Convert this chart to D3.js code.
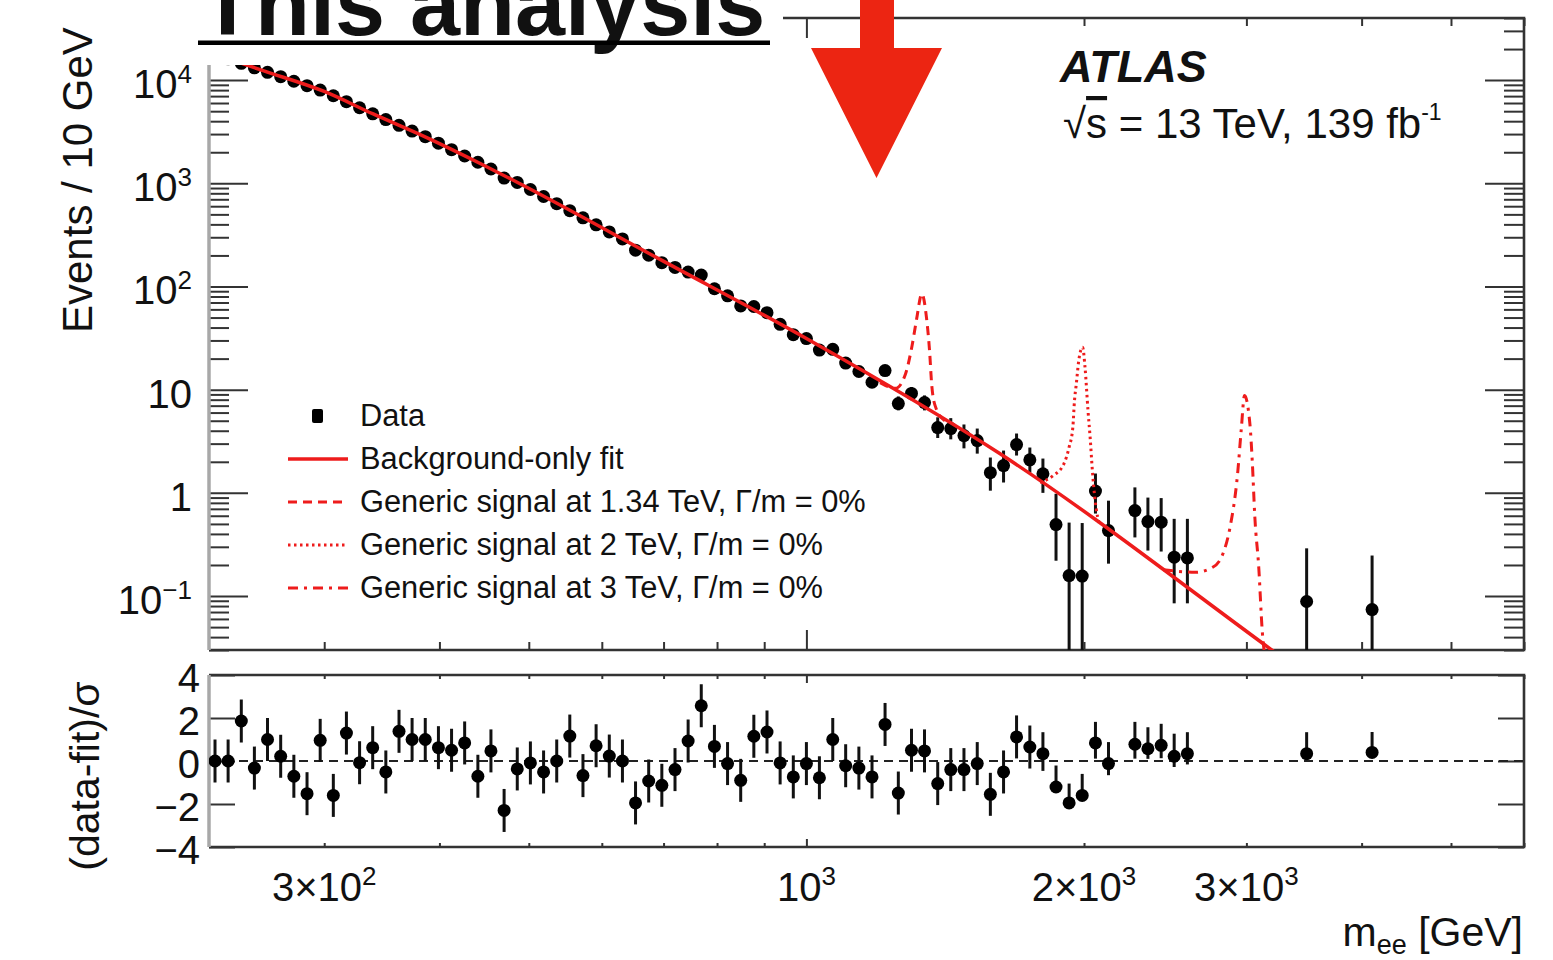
<!DOCTYPE html>
<html>
<head>
<meta charset="utf-8">
<script src="https://cdn.jsdelivr.net/npm/d3@7"></script>
<style>
  body { margin: 0; background: #fff; }
  svg { display: block; }
  text { font-family: "Liberation Sans", Arial, Helvetica, sans-serif; fill: #111; }
</style>
</head>
<body>
<div id="chart"></div>
<script>
// ---- data ----
// bin centres (GeV), one per drawn data point (empty bins are not drawn)
const mass = [228.4, 236.0, 243.9, 252.0, 260.4, 269.1, 278.1, 287.4, 297.0, 306.9,
  317.1, 327.7, 338.6, 349.9, 361.6, 373.6, 386.1, 399.0, 412.3, 426.0,
  440.3, 454.9, 470.1, 485.8, 502.0, 518.8, 536.1, 553.9, 572.4, 591.5,
  611.3, 631.7, 652.7, 674.5, 697.0, 720.3, 744.3, 769.1, 794.8, 821.3,
  848.7, 877.0, 906.3, 936.5, 967.8, 1000, 1033, 1068, 1103, 1140,
  1178, 1217, 1258, 1300, 1343, 1388, 1434, 1482, 1532, 1583,
  1636, 1690, 1747, 1805, 1865, 1927, 1991, 2058, 2126,
  2271, 2346, 2425, 2505, 2589,
  3487, 4106]

// events / 10 GeV
const events = [17800, 16070, 14540, 13150, 11910, 10790, 9750, 8830, 8000, 7060,
  6180, 5400, 4710, 4150, 3650, 3210, 2830, 2450, 2120, 1840,
  1600, 1377, 1123, 1021, 871, 745, 635, 543, 463, 396,
  338, 289, 225, 201, 170, 153, 138, 129, 95.1, 81.2,
  64.8, 64, 55.8, 43.0, 34.1, 31.3, 24.2, 24.6, 18.1, 15.0,
  11.8, 15.3, 7.33, 9.2, 7.5, 4.29, 4.2, 3.59, 3.21, 1.57,
  1.84, 2.94, 2.09, 1.53, 0.493, 0.158, 0.156, 1.04, 0.431,
  0.674, 0.527, 0.52, 0.238, 0.234,
  0.0885, 0.074]

// visible error bars in the top panel, from point index 51 on
const firstBar = 51
const errHi = [17.1, 8.6, 10.6, 8.8, 5.4, 5.3, 4.6, 4.2, 2.2, 2.57, 3.76, 2.75, 2.15, 0.98, 0.515, 0.51, 1.54, 0.84,
  1.13, 0.90, 0.89, 0.56, 0.56, 0.29, 0.247]
const errLo = [13.7, 6.3, 7.9, 6.3, 3.4, 3.3, 2.7, 2.4, 1.05, 1.26, 2.3, 1.57, 1.0, 0.22, 0.01, 0.01, 0.63, 0.206,
  0.37, 0.276, 0.27, 0.085, 0.085, 0.01, 0.01]

// (data-fit)/sigma
const residual = [0, 0, 1.86, -0.33, 1.0, 0.22, -0.71, -1.52, 0.96, -1.6,
  1.3, -0.08, 0.62, -0.51, 1.38, 1.0, 1.0, 0.62, 0.5, 0.84,
  -0.71, 0.47, -2.3, -0.37, -0.09, -0.51, 0, 1.16, -0.68, 0.71,
  0.23, 0, -1.95, -0.93, -1.13, -0.4, 0.93, 2.57, 0.68, -0.12,
  -0.9, 1.15, 1.35, -0.09, -0.74, -0.12, -0.78, 1.0, -0.22, -0.33,
  -0.74, 1.7, -1.49, 0.5, 0.47, -1.05, -0.4, -0.4, -0.12, -1.55,
  -0.51, 1.12, 0.65, 0.34, -1.21, -1.95, -1.6, 0.84, -0.12,
  0.78, 0.57, 0.73, 0.22, 0.34,
  0.34, 0.4]
const resUp = [1, 1, 1, 1, 1, 1, 1, 1, 1, 1,
  1, 1, 1, 1, 1, 1, 1, 1, 1, 1,
  1, 1, 1, 1, 1, 1, 1, 1, 1, 1,
  1, 1, 1, 1, 1, 1, 1, 1, 1, 1,
  1, 1, 1, 1, 1, 1, 1, 1, 1, 1,
  1, 1, 1, 1, 1, 1, 1, 1, 1, 1,
  1, 1, 1, 1, 1, 0.9, 1, 0.98, 1,
  1.04, 1, 1, 1.05, 1,
  1, 0.95]
const resDn = [1, 1, 1, 1, 1, 1, 1, 1, 1, 1,
  1, 1, 1, 1, 1, 1, 1, 1, 1, 1,
  1, 1, 1, 1, 1, 1, 1, 1, 1, 1,
  1, 1, 1, 1, 1, 1, 1, 1, 1, 1,
  1, 1, 1, 1, 1, 1, 1, 1, 1, 1,
  1, 1, 1, 1, 1, 1, 1, 1, 1, 1,
  1, 1, 1, 0.8, 0.1, 0.05, 0.1, 0.73, 0.54,
  0.67, 0.47, 0.6, 0.5, 0.5,
  0.1, 0.1]

// background-only fit, knots
const fitMass = [225, 258, 300, 339, 387, 444, 481, 698, 1000, 1622, 3184, 3550]
const fitVal = [18600, 12300, 7760, 4700, 2790, 1540, 1070, 178, 31.3, 2.39, 0.0308, 0.0151]

// signal + background curves (peak regions only, elsewhere they sit on the fit)
const sig1Mass = [1202, 1249, 1281, 1302, 1317, 1334, 1350, 1360, 1367, 1379, 1413]
const sig1Val = [11.7, 10.3, 14.3, 26.8, 48.8, 85, 48.8, 23.9, 11.5, 7.0, 5.0]
const sig2Mass = [1792, 1852, 1902, 1927, 1945, 1953, 1962, 1974, 1993, 2005, 2020, 2032, 2041, 2056, 2082]
const sig2Val = [1.26, 1.47, 1.91, 2.77, 4.32, 7.83, 11.4, 19.2, 25.8, 16.5, 6.28, 3.21, 1.77, 0.85, 0.477]
const sig3Mass = [2437, 2640, 2758, 2830, 2880, 2935, 2961, 2986, 3026, 3044, 3064, 3094, 3121, 3143]
const sig3Val = [0.18, 0.17, 0.19, 0.258, 0.464, 1.54, 4.0, 8.77, 4.7, 2.06, 0.58, 0.19, 0.046, 0.025]

// tick labels
const yMajor = [0.1, 1, 10, 100, 1000, 10000]
const yLabelBase = ['10', '1', '10', '10', '10', '10']
const yLabelExp = ['\u22121', '', '', '2', '3', '4']
const xMajor = [1000]
const xLabelVals = [300, 1000, 2000, 3000]
const xLabelBase = ['3\u00d710', '10', '2\u00d710', '3\u00d710']
const xLabelExp = ['2', '3', '3', '3']
const resTicks = [-4, -2, 0, 2, 4]
const resLabels = ['\u22124', '\u22122', '0', '2', '4']

const legendLabels = ['Data', 'Background-only fit',
  'Generic signal at 1.34 TeV, \u0393/m = 0%',
  'Generic signal at 2 TeV, \u0393/m = 0%',
  'Generic signal at 3 TeV, \u0393/m = 0%']

// ---- layout ----
const width = 1553, height = 960
const frame = { left: 209, right: 1524, top: 18, bottom: 650, rTop: 675, rBottom: 847 }
const red = '#ee1c1c'
const axisCol = '#333'

const svg = d3.select('#chart').append('svg')
  .attr('width', width).attr('height', height)

const x = d3.scaleLog().domain([225, 6000]).range([frame.left, frame.right])
const y = d3.scaleLog().domain([0.03, 4e4]).range([frame.bottom, frame.top])
const yr = d3.scaleLinear().domain([-4, 4]).range([frame.rBottom, frame.rTop])

const defs = svg.append('defs')
defs.append('clipPath').attr('id', 'clipTop').append('rect')
  .attr('x', frame.left).attr('y', frame.top)
  .attr('width', frame.right - frame.left).attr('height', frame.bottom - frame.top)
defs.append('clipPath').attr('id', 'clipBot').append('rect')
  .attr('x', frame.left).attr('y', frame.rTop)
  .attr('width', frame.right - frame.left).attr('height', frame.rBottom - frame.rTop)

const points = mass.map((m, i) => ({ m, v: events[i], r: residual[i], up: resUp[i], dn: resDn[i], i }))

// ---- ticks (inward, ROOT style) ----
function ticks(g, axis, values, size) {
  g.call(axis.tickValues(values).tickSize(size).tickFormat(''))
  g.select('.domain').remove()
  g.selectAll('line').attr('stroke', axisCol).attr('stroke-width', 2)
}
const isMajor = v => Math.abs(Math.log10(v) - Math.round(Math.log10(v))) < 1e-6
const yMinor = y.ticks().filter(v => !isMajor(v))
const xMinor = x.ticks().filter(v => !xMajor.includes(v))

ticks(svg.append('g').attr('transform', `translate(${frame.left},0)`), d3.axisLeft(y), yMinor, -20)
ticks(svg.append('g').attr('transform', `translate(${frame.left},0)`), d3.axisLeft(y), yMajor, -39)
ticks(svg.append('g').attr('transform', `translate(${frame.right},0)`), d3.axisRight(y), yMinor, -20)
ticks(svg.append('g').attr('transform', `translate(${frame.right},0)`), d3.axisRight(y), yMajor, -39)
ticks(svg.append('g').attr('transform', `translate(0,${frame.bottom})`), d3.axisBottom(x), xMinor, -8)
ticks(svg.append('g').attr('transform', `translate(0,${frame.bottom})`), d3.axisBottom(x), xMajor, -20)
ticks(svg.append('g').attr('transform', `translate(0,${frame.top})`), d3.axisTop(x), xMinor, -8)
ticks(svg.append('g').attr('transform', `translate(0,${frame.top})`), d3.axisTop(x), xMajor, -20)

ticks(svg.append('g').attr('transform', `translate(${frame.left},0)`), d3.axisLeft(yr), resTicks, -26)
ticks(svg.append('g').attr('transform', `translate(${frame.right},0)`), d3.axisRight(yr), resTicks, -26)
ticks(svg.append('g').attr('transform', `translate(0,${frame.rBottom})`), d3.axisBottom(x), xMinor, -4)
ticks(svg.append('g').attr('transform', `translate(0,${frame.rBottom})`), d3.axisBottom(x), xMajor, -8)
ticks(svg.append('g').attr('transform', `translate(0,${frame.rTop})`), d3.axisTop(x), xMinor, -4)
ticks(svg.append('g').attr('transform', `translate(0,${frame.rTop})`), d3.axisTop(x), xMajor, -8)

// ---- frames ----
function drawFrame(y0, y1) {
  const g = svg.append('g').attr('fill', 'none')
  g.append('path').attr('d', `M${frame.left},${y0}H${frame.right}V${y1}H${frame.left}`)
    .attr('stroke', axisCol).attr('stroke-width', 2.6)
  g.append('line').attr('x1', frame.left).attr('x2', frame.left).attr('y1', y0).attr('y2', y1)
    .attr('stroke', '#a8a8a8').attr('stroke-width', 3.5)
}
drawFrame(frame.top, frame.bottom)
drawFrame(frame.rTop, frame.rBottom)

// ---- top panel ----
const topG = svg.append('g').attr('clip-path', 'url(#clipTop)')

topG.append('g').selectAll('line')
  .data(points.filter(d => d.i >= firstBar))
  .join('line')
  .attr('x1', d => x(d.m)).attr('x2', d => x(d.m))
  .attr('y1', d => y(errLo[d.i - firstBar])).attr('y2', d => y(errHi[d.i - firstBar]))
  .attr('stroke', '#111').attr('stroke-width', 3)

topG.append('g').selectAll('circle')
  .data(points)
  .join('circle')
  .attr('cx', d => x(d.m)).attr('cy', d => y(d.v)).attr('r', 6.5)
  .attr('fill', '#000')

const curve = d3.line().x(d => x(d[0])).y(d => y(d[1])).curve(d3.curveMonotoneX)

topG.append('path')
  .attr('d', curve(d3.zip(fitMass, fitVal)))
  .attr('fill', 'none').attr('stroke', red).attr('stroke-width', 3.5)

const signals = [
  { m: sig1Mass, v: sig1Val, dash: '9,6' },
  { m: sig2Mass, v: sig2Val, dash: '2.5,3.5' },
  { m: sig3Mass, v: sig3Val, dash: '10,6,3,6' }
]
topG.append('g').selectAll('path')
  .data(signals)
  .join('path')
  .attr('d', s => curve(d3.zip(s.m, s.v)))
  .attr('fill', 'none').attr('stroke', red).attr('stroke-width', 3)
  .attr('stroke-dasharray', s => s.dash)

// ---- ratio panel ----
const botG = svg.append('g').attr('clip-path', 'url(#clipBot)')
botG.append('line')
  .attr('x1', frame.left).attr('x2', frame.right)
  .attr('y1', yr(0)).attr('y2', yr(0))
  .attr('stroke', '#222').attr('stroke-width', 2).attr('stroke-dasharray', '9,6')

botG.append('g').selectAll('line')
  .data(points)
  .join('line')
  .attr('x1', d => x(d.m)).attr('x2', d => x(d.m))
  .attr('y1', d => yr(d.r - d.dn)).attr('y2', d => yr(d.r + d.up))
  .attr('stroke', '#111').attr('stroke-width', 3)

botG.append('g').selectAll('circle')
  .data(points)
  .join('circle')
  .attr('cx', d => x(d.m)).attr('cy', d => yr(d.r)).attr('r', 6.5)
  .attr('fill', '#000')

// ---- tick labels ----
const tickFont = 40, supFont = 26
function supText(sel, base, exp, rise) {
  sel.append('tspan').text(base)
  if (exp) sel.append('tspan').attr('font-size', supFont).attr('dy', -rise).text(exp)
}
yMajor.forEach((v, i) => {
  const t = svg.append('text').attr('x', 192).attr('y', y(v) + 18)
    .attr('text-anchor', 'end').attr('font-size', tickFont)
  supText(t, yLabelBase[i], yLabelExp[i], 15)
})
resTicks.forEach((v, i) => {
  svg.append('text').attr('x', 200).attr('y', yr(v) + 17)
    .attr('text-anchor', 'end').attr('font-size', tickFont).text(resLabels[i])
})
xLabelVals.forEach((v, i) => {
  const t = svg.append('text').attr('x', x(v)).attr('y', 901)
    .attr('text-anchor', 'middle').attr('font-size', tickFont)
  supText(t, xLabelBase[i], xLabelExp[i], 16)
})

// ---- axis titles ----
svg.append('text')
  .attr('transform', 'translate(92,333) rotate(-90)')
  .attr('font-size', 42).text('Events / 10 GeV')
svg.append('text')
  .attr('transform', 'translate(99,776) rotate(-90)')
  .attr('text-anchor', 'middle').attr('font-size', 41).text('(data-fit)/\u03c3')
const xt = svg.append('text').attr('x', 1523).attr('y', 946)
  .attr('text-anchor', 'end').attr('font-size', 41)
xt.append('tspan').text('m')
xt.append('tspan').attr('font-size', 27).attr('dy', 8).text('ee')
xt.append('tspan').attr('dy', -8).text(' [GeV]')

// ---- ATLAS label ----
svg.append('text').attr('x', 1060).attr('y', 82)
  .attr('font-size', 45).attr('font-weight', 'bold').attr('font-style', 'italic')
  .text('ATLAS')
const lumi = svg.append('text').attr('x', 1063).attr('y', 138).attr('font-size', 42)
lumi.append('tspan').text('\u221a')
lumi.append('tspan').attr('text-decoration', 'overline').text('s')
lumi.append('tspan').text(' = 13 TeV, 139 fb')
lumi.append('tspan').attr('font-size', 23).attr('dy', -18).text('-1')

// ---- legend ----
const legY = [416, 459, 502, 545, 588]
const leg = svg.append('g')
leg.append('rect').attr('x', 312).attr('y', legY[0] - 7).attr('width', 11).attr('height', 14)
  .attr('rx', 2).attr('fill', '#000')
leg.append('line').attr('x1', 288).attr('x2', 348).attr('y1', legY[1]).attr('y2', legY[1])
  .attr('stroke', red).attr('stroke-width', 3.5)
signals.forEach((s, i) => {
  leg.append('line').attr('x1', 288).attr('x2', 348).attr('y1', legY[i + 2]).attr('y2', legY[i + 2])
    .attr('stroke', red).attr('stroke-width', 3).attr('stroke-dasharray', s.dash)
})
leg.selectAll('text')
  .data(legendLabels)
  .join('text')
  .attr('x', 360).attr('y', (d, i) => legY[i] + 10)
  .attr('font-size', 30.8).attr('fill', '#222')
  .text(d => d)

// ---- "This analysis" annotation ----
svg.append('rect').attr('x', 172).attr('y', 0).attr('width', 611).attr('height', 65).attr('fill', '#fff')
svg.append('text').attr('x', 200).attr('y', 35)
  .attr('font-size', 90).attr('font-weight', 'bold').attr('fill', '#000')
  .text('This analysis')
svg.append('rect').attr('x', 198).attr('y', 40.5).attr('width', 572).attr('height', 4.5).attr('fill', '#000')

// red arrow pointing down
svg.append('path')
  .attr('d', 'M860,0H894V48H942L876.5,178L811,48H860Z')
  .attr('fill', '#ec2512')
</script>
</body>
</html>
